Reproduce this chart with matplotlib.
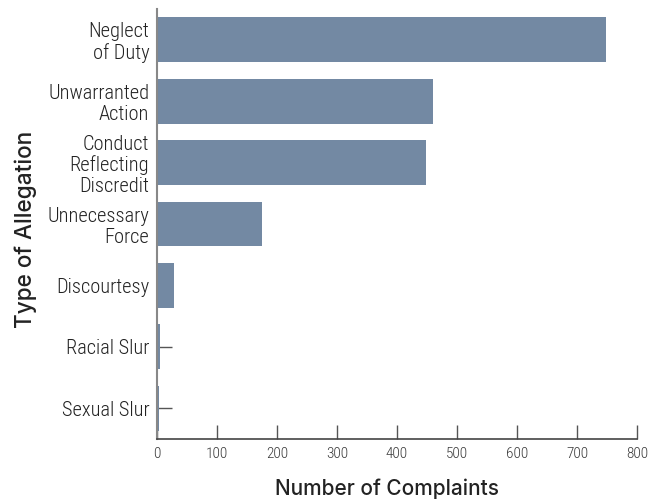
import matplotlib
matplotlib.use("Agg")
import matplotlib.pyplot as plt
from matplotlib import font_manager

categories = ["Neglect\nof Duty", "Unwarranted\nAction", "Conduct\nReflecting\nDiscredit",
              "Unnecessary\nForce", "Discourtesy", "Racial Slur", "Sexual Slur"]
complaints = [748, 460, 448, 175, 28, 5, 3]
xticks = [0, 100, 200, 300, 400, 500, 600, 700, 800]

names = {f.name for f in font_manager.fontManager.ttflist}
cond = [n for n in ["Roboto Condensed", "Liberation Sans Narrow", "Open Sans Condensed"] if n in names]
tick_family = cond + ["DejaVu Sans"]
title_family = [n for n in ["Inter", "Lato"] if n in names] + ["DejaVu Sans"]

fig = plt.figure(figsize=(6.61, 5.04), dpi=100)
ax = fig.add_axes([157/661, 1-439/504, 480/661, 430/504])

ypos = list(range(len(categories)))
ax.barh(ypos, complaints, height=0.73, color="#7389a3", zorder=1)
ax.set_axisbelow(True)
ax.set_ylim(len(categories)-0.5, -0.5)
ax.set_xlim(0, 800)
ax.set_xticks(xticks)
ax.set_xticklabels([str(t) for t in xticks], family=tick_family, fontsize=11,
                   fontweight="light", color="#3a3a3a")
ax.set_yticks(ypos)
ax.set_yticklabels(categories, family=tick_family, fontsize=14.7, fontweight="light",
                   color="#222222", linespacing=1.12)
ax.tick_params(axis="x", direction="in", length=10, width=1, color="#555555", pad=6)
ax.tick_params(axis="y", direction="in", length=11, width=1, color="#555555", pad=5.5)

for s in ["top", "right"]:
    ax.spines[s].set_visible(False)
ax.spines["left"].set_color("#888888")
ax.spines["left"].set_linewidth(1.5)
ax.spines["bottom"].set_color("#444444")
ax.spines["bottom"].set_linewidth(1.2)

xt = fig.text(387/661, 1-489/504, "Number of Complaints", ha="center", va="center",
              family=title_family, fontsize=15, fontweight="medium", color="#222222")
yt = fig.text(26/661, 1-229/504, "Type of Allegation", ha="center", va="center", rotation=90,
              family=title_family, fontsize=15, fontweight="medium", color="#222222")

# fit title sizes to the reference extents
fig.canvas.draw()
r = fig.canvas.get_renderer()
w = xt.get_window_extent(r).width
xt.set_fontsize(15 * 224 / w)
h = yt.get_window_extent(r).height
yt.set_fontsize(15 * 198 / h)

fig.savefig("out.png", dpi=100)
